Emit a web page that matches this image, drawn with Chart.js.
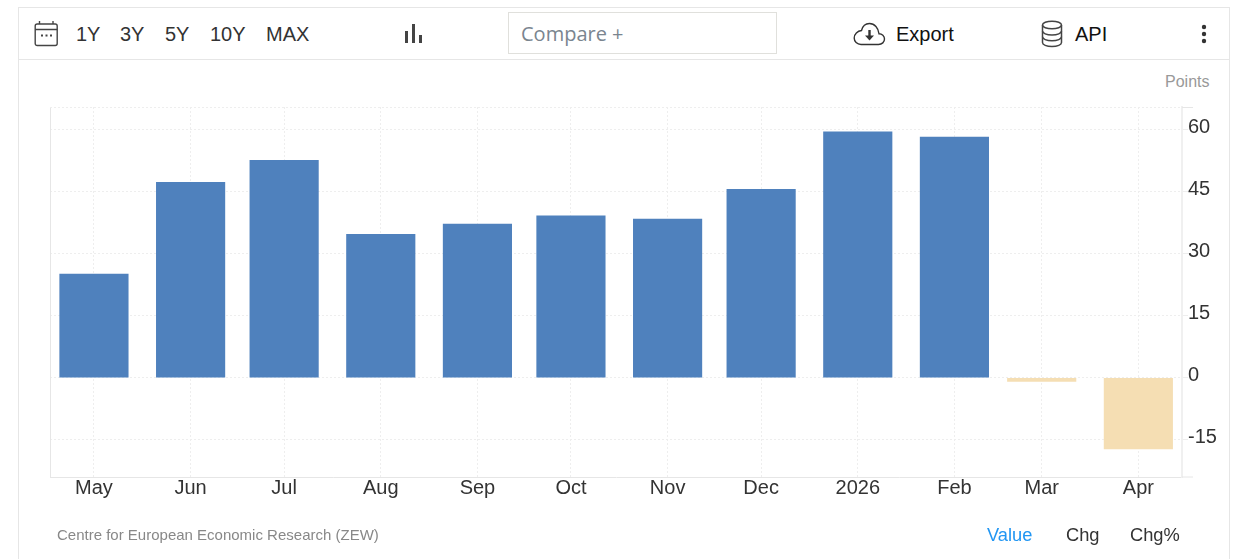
<!DOCTYPE html>
<html>
<head>
<meta charset="utf-8">
<script src="https://cdn.jsdelivr.net/npm/chart.js@4"></script>
<style>
html, body { margin: 0; padding: 0; background: #fff; }
body { width: 1238px; height: 559px; overflow: hidden; position: relative; font-family: "Liberation Sans", Arial, sans-serif; color: #333; }
#frame { position: absolute; left: 18px; top: 7px; width: 1210px; height: 560px; border: 1px solid #e6e6e6; }
#bar { position: absolute; left: 19px; top: 59px; width: 1210px; height: 1px; background: #e6e6e6; }
.t { position: absolute; white-space: nowrap; line-height: 24px; font-size: 20px; }
.ic { position: absolute; }
#compare { position: absolute; left: 508px; top: 12px; width: 267px; height: 40px; border: 1px solid #e0e0dc; }
#compare span { position: absolute; left: 12px; top: 9px; font: 20px/24px "Open Sans", sans-serif; color: #7a858f; white-space: nowrap; }
canvas { position: absolute; left: 0; top: 0; }
</style>
</head>
<body>
<div id="frame"></div>
<div id="bar"></div>

<svg class="ic" style="left:34px;top:20px" width="25" height="27" viewBox="0 0 25 27" fill="none" stroke="#444" stroke-width="1.4">
  <rect x="1.2" y="4" width="22" height="21.5" rx="2"/>
  <path d="M1.2 9.5H23.2M5.5 1V4M19 1V4"/>
  <path d="M7 15.5h2M11.5 15.5h2M16 15.5h2" stroke-width="2"/>
</svg>
<div class="t" style="left:76px;top:22px">1Y</div>
<div class="t" style="left:120px;top:22px">3Y</div>
<div class="t" style="left:165px;top:22px">5Y</div>
<div class="t" style="left:210px;top:22px">10Y</div>
<div class="t" style="left:266px;top:22px">MAX</div>
<svg class="ic" style="left:404px;top:24px" width="20" height="20" fill="#444">
  <rect x="1" y="7" width="3" height="12"/><rect x="8" y="0" width="3" height="19"/><rect x="15" y="11" width="3" height="8"/>
</svg>
<div id="compare"><span>Compare +</span></div>
<svg class="ic" style="left:853px;top:22px" width="33" height="24" viewBox="0 0 33 24" fill="none" stroke="#333" stroke-width="1.4">
  <path d="M8 22.5H25.5C29 22.5 31.5 20 31.5 17C31.5 14 29 11.8 26 11.8C25.5 6 21.5 1.5 16.5 1.5C12.5 1.5 9.5 4.5 8.5 8.5C4.5 9 1.2 12 1.2 16C1.2 19.5 4 22.5 8 22.5Z"/>
  <path d="M16.5 8V15" stroke-width="2.4"/><path d="M12 13.5H21L16.5 18.5Z" fill="#333" stroke="none"/>
</svg>
<div class="t" style="left:896px;top:22px;color:#111">Export</div>
<svg class="ic" style="left:1041px;top:20px" width="22" height="28" viewBox="0 0 22 28" fill="none" stroke="#444" stroke-width="1.5">
  <ellipse cx="11" cy="5" rx="9.5" ry="3.8"/>
  <path d="M1.5 5V22.5C1.5 24.8 5.5 26.5 11 26.5S20.5 24.8 20.5 22.5V5"/>
  <path d="M1.5 11C1.5 13.2 5.5 15 11 15S20.5 13.2 20.5 11M1.5 16.8C1.5 19 5.5 20.8 11 20.8S20.5 19 20.5 16.8"/>
</svg>
<div class="t" style="left:1075px;top:22px;color:#111">API</div>
<svg class="ic" style="left:1200px;top:24px" width="8" height="20" fill="#333">
  <circle cx="4" cy="3" r="2.2"/><circle cx="4" cy="10" r="2.2"/><circle cx="4" cy="17" r="2.2"/>
</svg>

<div class="t" style="left:1165px;top:70px;font-size:16px;color:#999">Points</div>
<canvas id="myChart" width="1238" height="559"></canvas>
<div class="t" style="left:57px;top:523px;font-size:15px;color:#888">Centre for European Economic Research (ZEW)</div>
<div class="t" style="left:987px;top:523px;font-size:18.3px;color:#2196f3">Value</div>
<div class="t" style="left:1066px;top:523px;font-size:18.3px">Chg</div>
<div class="t" style="left:1130px;top:523px;font-size:18.3px">Chg%</div>

<script>
const monthLabels = ["May", "Jun", "Jul", "Aug", "Sep", "Oct", "Nov", "Dec", "2026", "Feb", "Mar", "Apr"];
const dayOffsets = [0, 31, 61, 92, 123, 153, 184, 214, 245, 276, 304, 335];
const zewValues = [25.1, 47.3, 52.6, 34.7, 37.2, 39.2, 38.4, 45.6, 59.5, 58.2, -0.9, -17.2];
const yTicks = [-15, 0, 15, 30, 45, 60];

const gridColor = "#eeeeee";
const axisColor = "#e6e6e6";

// left edge, dotted top edge and the small stubs past the right axis
const plotFrame = {
    id: "plotFrame",
    afterDraw(chart) {
        const { ctx, chartArea: a } = chart;
        ctx.save();
        ctx.strokeStyle = axisColor;
        ctx.lineWidth = 1;
        ctx.beginPath();
        ctx.moveTo(a.left + 0.5, a.top);
        ctx.lineTo(a.left + 0.5, a.bottom);
        ctx.moveTo(a.right, a.bottom);
        ctx.lineTo(a.right + 11, a.bottom);
        ctx.moveTo(a.right, a.top + 0.5);
        ctx.lineTo(a.right + 11, a.top + 0.5);
        ctx.stroke();
        ctx.strokeStyle = gridColor;
        ctx.setLineDash([2, 2]);
        ctx.beginPath();
        ctx.moveTo(a.left, a.top + 0.5);
        ctx.lineTo(a.right, a.top + 0.5);
        ctx.stroke();
        ctx.restore();
    }
};

const config = {
    type: "bar",
    data: {
        datasets: [{
            label: "ZEW",
            data: dayOffsets.map((d, i) => ({ x: d, y: zewValues[i] })),
            backgroundColor: ctx => ctx.raw.y < 0 ? "#f5deb3" : "#4f81bd",
            barThickness: 68.5
        }]
    },
    options: {
        responsive: false,
        animation: false,
        devicePixelRatio: 1,
        layout: { padding: { left: 50, top: 107, right: 16, bottom: 52 } },
        plugins: { legend: { display: false }, tooltip: { enabled: false } },
        scales: {
            x: {
                type: "linear",
                offset: false,
                min: -14.1,
                max: 349,
                afterBuildTicks: axis => { axis.ticks = dayOffsets.map(v => ({ value: v })); },
                afterFit: axis => { axis.height = 30; },
                grid: { color: gridColor, drawTicks: false, offset: false },
                border: { color: axisColor, width: 1, dash: [2, 2] },
                ticks: {
                    autoSkip: false,
                    maxRotation: 0,
                    padding: -1,
                    color: "#333",
                    font: { family: "'Liberation Sans', Arial", size: 20 },
                    callback: value => monthLabels[dayOffsets.indexOf(value)]
                }
            },
            y: {
                position: "right",
                min: -24,
                max: 65.5,
                afterBuildTicks: axis => { axis.ticks = yTicks.map(v => ({ value: v })); },
                afterFit: axis => { axis.width = 40; },
                grid: { color: gridColor, tickLength: 6 },
                border: { color: "#f0f0f0", width: 2, dash: [2, 2] },
                ticks: {
                    crossAlign: "near",
                    padding: 0,
                    labelOffset: -2,
                    color: "#333",
                    font: { family: "'Liberation Sans', Arial", size: 20 }
                }
            }
        }
    },
    plugins: [plotFrame]
};
const myChart = new Chart(document.getElementById("myChart"), config);
</script>
</body>
</html>
